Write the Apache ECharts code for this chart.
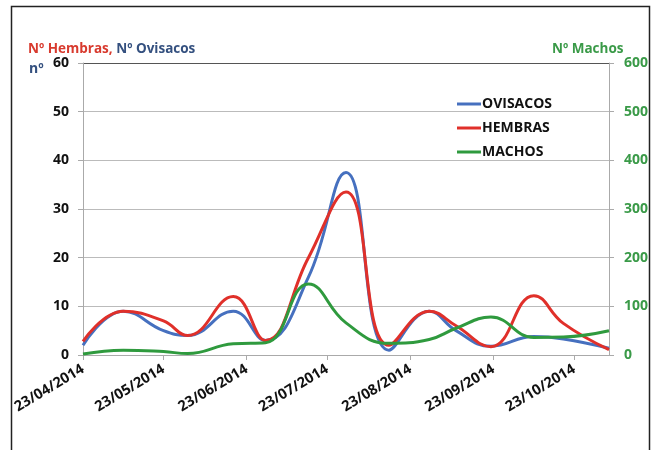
<!DOCTYPE html>
<html>
<head>
<meta charset="utf-8">
<script src="https://cdn.jsdelivr.net/npm/echarts@6/dist/echarts.min.js"></script>
<style>
  html, body { margin: 0; padding: 0; background: #fff; }
  #chart { width: 655px; height: 450px; }
</style>
</head>
<body>
<div id="chart"></div>
<script>
// Sampling dates (dd/mm/yyyy) and counts per series
var sampleDates = ['23/04/2014','08/05/2014','23/05/2014','01/06/2014','18/06/2014','30/06/2014','16/07/2014','30/07/2014','15/08/2014','30/08/2014','09/09/2014','22/09/2014','08/10/2014','19/10/2014','05/11/2014'];
var ovisacos = [2, 9, 5, 4, 9, 3, 16, 37.5, 1, 9, 5, 1.8, 3.8, 3.3, 1.4];
var hembras  = [2.8, 9, 7, 4, 12, 3, 20, 33.5, 2, 9, 6, 1.7, 12.2, 6.5, 1.1];
var machos   = [2, 10, 7, 3, 23, 25, 146, 66, 24, 32, 55, 78, 36, 37, 50];

var leftTicks = { min: 0, max: 60, interval: 10 };
var rightTicks = { min: 0, max: 600, interval: 100 };
var axisStart = '23/04/2014';
var axisEnd = '05/11/2014';

// Daily category axis so that positions follow calendar days
function parseDMY(s) {
  var p = s.split('/');
  return new Date(Date.UTC(+p[2], +p[1] - 1, +p[0]));
}
function fmt(d) {
  var dd = ('0' + d.getUTCDate()).slice(-2);
  var mm = ('0' + (d.getUTCMonth() + 1)).slice(-2);
  return dd + '/' + mm + '/' + d.getUTCFullYear();
}
var days = [];
for (var t = parseDMY(axisStart).getTime(); t <= parseDMY(axisEnd).getTime(); t += 86400000) {
  days.push(fmt(new Date(t)));
}
function pairs(vals) {
  return sampleDates.map(function (d, i) { return [d, vals[i]]; });
}
function onMonthMark(idx, val) { return val.slice(0, 3) === '23/'; }

var FONT = '"Open Sans", "Liberation Sans", sans-serif';
var BLUE = '#4670bf', RED = '#e0302a', GREEN = '#2f9a3e';

var chart = echarts.init(document.getElementById('chart'), null, { renderer: 'canvas' });
chart.setOption({
  animation: false,
  backgroundColor: '#ffffff',
  textStyle: { fontFamily: FONT },
  grid: { left: 83, right: 46, top: 63, bottom: 95, containLabel: false },
  title: [
    {
      left: 23, top: 37,
      text: '{r|Nº Hembras, }{b|Nº Ovisacos}',
      textStyle: { rich: {
        r: { color: '#d83a2e', fontSize: 13.5, fontWeight: 'bold', fontFamily: FONT },
        b: { color: '#34507f', fontSize: 13.5, fontWeight: 'bold', fontFamily: FONT }
      } }
    },
    {
      left: 24, top: 57, text: 'nº',
      textStyle: { color: '#34507f', fontSize: 14, fontWeight: 'bold', fontFamily: FONT }
    },
    {
      left: 547, top: 37, text: 'Nº Machos',
      textStyle: { color: '#3a9a48', fontSize: 13.5, fontWeight: 'bold', fontFamily: FONT }
    }
  ],
  graphic: [{
    type: 'rect', silent: true, z: -1,
    shape: { x: 11.5, y: 6.5, width: 638, height: 460 },
    style: { fill: 'none', stroke: '#222', lineWidth: 1.5 }
  }],
  legend: {
    orient: 'vertical', left: 452, top: 92, itemGap: 10,
    icon: 'rect', itemWidth: 24, itemHeight: 3,
    data: ['OVISACOS', 'HEMBRAS', 'MACHOS'],
    textStyle: { color: '#111', fontSize: 14, fontWeight: 'bold', fontFamily: FONT, padding: [0, 0, 0, -4] }
  },
  xAxis: {
    type: 'category', data: days, boundaryGap: false,
    axisLine: { show: true, lineStyle: { color: '#aaa', width: 1 } },
    axisTick: { show: true, interval: onMonthMark, length: 5, lineStyle: { color: '#aaa' } },
    axisLabel: {
      interval: onMonthMark, rotate: 31, margin: 13,
      color: '#111', fontSize: 14.5, fontWeight: 'bold', fontFamily: FONT
    },
    splitLine: { show: false }
  },
  yAxis: [
    {
      type: 'value', min: leftTicks.min, max: leftTicks.max, interval: leftTicks.interval,
      axisLine: { show: true, lineStyle: { color: '#aaa' } },
      axisTick: { show: true, length: 5, lineStyle: { color: '#aaa' } },
      axisLabel: { margin: 14, color: '#111', fontSize: 14, fontWeight: 'bold', fontFamily: FONT },
      splitLine: { show: true, lineStyle: { color: ['#bbb','#bbb','#bbb','#bbb','#bbb','#bbb','#555'], width: 1 } }
    },
    {
      type: 'value', position: 'right', min: rightTicks.min, max: rightTicks.max, interval: rightTicks.interval,
      axisLine: { show: true, lineStyle: { color: '#aaa' } },
      axisTick: { show: true, length: 5, lineStyle: { color: '#aaa' } },
      axisLabel: { margin: 15, color: '#3a9a48', fontSize: 14, fontWeight: 'bold', fontFamily: FONT },
      splitLine: { show: false }
    }
  ],
  series: [
    {
      name: 'OVISACOS', type: 'line', yAxisIndex: 0, smooth: 0.45, symbol: 'none',
      data: pairs(ovisacos), lineStyle: { color: BLUE, width: 3 }, itemStyle: { color: BLUE }, z: 2
    },
    {
      name: 'HEMBRAS', type: 'line', yAxisIndex: 0, smooth: 0.45, symbol: 'none',
      data: pairs(hembras), lineStyle: { color: RED, width: 3 }, itemStyle: { color: RED }, z: 3
    },
    {
      name: 'MACHOS', type: 'line', yAxisIndex: 1, smooth: 0.45, symbol: 'none',
      data: pairs(machos), lineStyle: { color: GREEN, width: 3 }, itemStyle: { color: GREEN }, z: 4
    }
  ]
});
</script>
</body>
</html>
